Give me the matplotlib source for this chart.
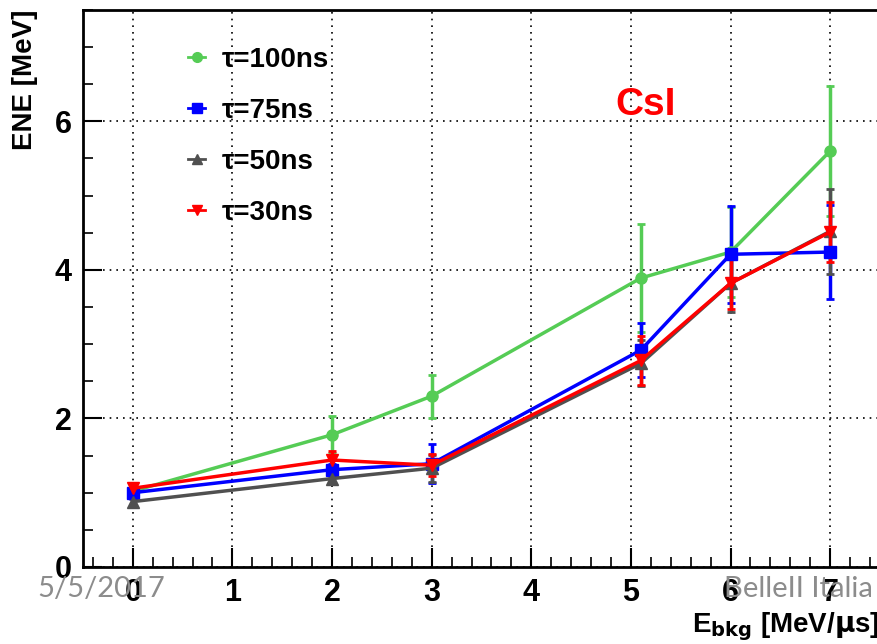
import matplotlib
matplotlib.use('Agg')
import matplotlib.pyplot as plt
from matplotlib.lines import Line2D
from matplotlib.ticker import MultipleLocator

plt.rcParams['font.family'] = ['Liberation Sans', 'DejaVu Sans']

# background energy points (MeV/us)
x_100 = [0, 2, 3, 5.1, 6, 7]
x_75 = [0, 2, 3, 5.1, 6, 7]
x_50 = [0, 2, 3, 5.1, 6, 7]
x_30 = [0, 2, 3, 5.1, 6, 7]

# equivalent noise energy (MeV) and errors
ene_100 = [1.02, 1.78, 2.30, 3.89, 4.24, 5.60]
err_100 = [0.05, 0.25, 0.29, 0.73, 0.60, 0.87]
ene_75 = [1.00, 1.31, 1.39, 2.92, 4.21, 4.24]
err_75 = [0.05, 0.08, 0.26, 0.36, 0.65, 0.63]
ene_50 = [0.88, 1.19, 1.33, 2.74, 3.82, 4.52]
err_50 = [0.04, 0.06, 0.18, 0.31, 0.39, 0.57]
ene_30 = [1.06, 1.44, 1.37, 2.78, 3.82, 4.51]
err_30 = [0.05, 0.12, 0.15, 0.33, 0.35, 0.40]

labels = [u'\u03c4=100ns', u'\u03c4=75ns', u'\u03c4=50ns', u'\u03c4=30ns']

fig = plt.figure(figsize=(8.77, 6.44), dpi=100)
ax = fig.add_axes([0.0946, 0.1196, 0.9088, 0.865])

series = [
    (x_100, ene_100, err_100, '#55cc55', 'o'),
    (x_75, ene_75, err_75, '#0000ff', 's'),
    (x_50, ene_50, err_50, '#505050', '^'),
    (x_30, ene_30, err_30, '#ff0000', 'v'),
]
handles = []
for x, y, e, c, m in series:
    ax.errorbar(x, y, yerr=e, color=c, marker=m, ms=8, lw=2.5,
                elinewidth=2.5, capsize=3, capthick=2)
    handles.append(Line2D([], [], color=c, marker=m, ms=7, lw=2))

ax.set_xlim(-0.5, 7.5)
ax.set_ylim(0, 7.5)
ax.xaxis.set_major_locator(MultipleLocator(1))
ax.xaxis.set_minor_locator(MultipleLocator(0.2))
ax.yaxis.set_major_locator(MultipleLocator(2))
ax.yaxis.set_minor_locator(MultipleLocator(0.5))
ax.tick_params(which='major', direction='in', length=14, width=1.5,
               labelsize=22, pad=8)
ax.tick_params(which='minor', direction='in', length=7, width=1.2)
for lab in ax.get_xticklabels() + ax.get_yticklabels():
    lab.set_fontweight('bold')
for s in ax.spines.values():
    s.set_linewidth(2)
ax.grid(True, which='major', ls=(0, (1, 3)), color='black', lw=1.2)

ax.set_ylabel('ENE [MeV]', fontsize=20, fontweight='bold', loc='top',
              labelpad=12)
ax.set_xlabel(r'E$_{\mathbf{bkg}}$ [MeV/$\mathbf{\mu}$s]', fontsize=20,
              fontweight='bold', loc='right', labelpad=2)

ax.legend(handles=handles, labels=labels, loc='upper left',
          bbox_to_anchor=(0.202, 0.945), bbox_transform=fig.transFigure,
          borderaxespad=0, frameon=False,
          prop={'size': 20, 'weight': 'bold'},
          labelspacing=0.9, handlelength=0.6, handletextpad=0.6)

ax.text(4.84, 6.08, 'CsI', color='#ff0000', fontsize=28, fontweight='bold',
        va='baseline')

# slide footer
fig.text(0.042, 0.0854, '5/5/2017', fontsize=21, color='#8c8c8c',
         family='Lato', va='center')
fig.text(0.9955, 0.0854, 'BelleII Italia', fontsize=21, color='#8c8c8c',
         family='Lato', va='center', ha='right')

fig.savefig('out.png', dpi=100)
